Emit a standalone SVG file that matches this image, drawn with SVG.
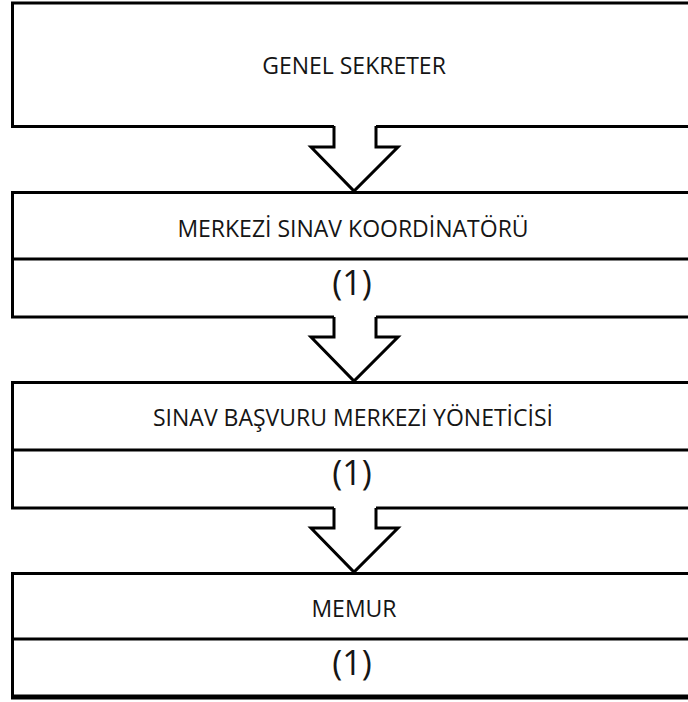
<svg xmlns="http://www.w3.org/2000/svg" width="688" height="702" viewBox="0 0 688 702">
  <style>
    .box { fill: #ffffff; stroke: #000000; stroke-width: 3; }
    .div { stroke: #000000; stroke-width: 3; }
    .lbl { font-family: "Open Sans", "Noto Sans", "Liberation Sans", sans-serif; font-size: 23px; fill: #151515; text-anchor: middle; }
    .num { font-family: "Open Sans", "Noto Sans", "Liberation Sans", sans-serif; font-size: 34px; fill: #151515; text-anchor: middle; }
    .arrow-fill { fill: #ffffff; stroke: none; }
    .arrow-line { fill: none; stroke: #000000; stroke-width: 3; stroke-linejoin: miter; }
  </style>
  <rect width="688" height="702" fill="#ffffff"/>

  <g id="genel-sekreter">
    <rect class="box" x="12.5" y="3" width="700" height="123.5"/>
    <text class="lbl" x="354" y="74">GENEL SEKRETER</text>
  </g>

  <g id="merkezi-sinav-koordinatoru">
    <rect class="box" x="12.5" y="192.5" width="700" height="124.5"/>
    <line class="div" x1="12.5" y1="259" x2="700" y2="259"/>
    <text class="lbl" x="353" y="237">MERKEZİ SINAV KOORDİNATÖRÜ</text>
    <text class="num" x="352" y="295">(1)</text>
  </g>

  <g id="sinav-basvuru-merkezi-yoneticisi">
    <rect class="box" x="12.5" y="382.5" width="700" height="125.5"/>
    <line class="div" x1="12.5" y1="450" x2="700" y2="450"/>
    <text class="lbl" x="353" y="426">SINAV BAŞVURU MERKEZİ YÖNETİCİSİ</text>
    <text class="num" x="352" y="485">(1)</text>
  </g>

  <g id="memur">
    <rect class="box" x="12.5" y="573.5" width="700" height="123"/>
    <line class="div" x1="12.5" y1="639" x2="700" y2="639"/>
    <line x1="11" y1="697" x2="700" y2="697" stroke="#000000" stroke-width="5"/>
    <text class="lbl" x="354" y="617">MEMUR</text>
    <text class="num" x="352" y="675">(1)</text>
  </g>

  <g id="connectors">
    <!-- block arrows: white body hides the box edge, outline left open at the top -->
    <polygon class="arrow-fill" points="334,124 376,124 376,147 398,147 354,191 311,147 334,147"/>
    <polyline class="arrow-line" points="334,126 334,147 311,147 354,191 398,147 376,147 376,126"/>

    <polygon class="arrow-fill" points="334,315 376,315 376,337 398,337 354,381 311,337 334,337"/>
    <polyline class="arrow-line" points="334,317 334,337 311,337 354,381 398,337 376,337 376,317"/>

    <polygon class="arrow-fill" points="334,506 376,506 376,528 398,528 354,572 311,528 334,528"/>
    <polyline class="arrow-line" points="334,508 334,528 311,528 354,572 398,528 376,528 376,508"/>
  </g>
</svg>
